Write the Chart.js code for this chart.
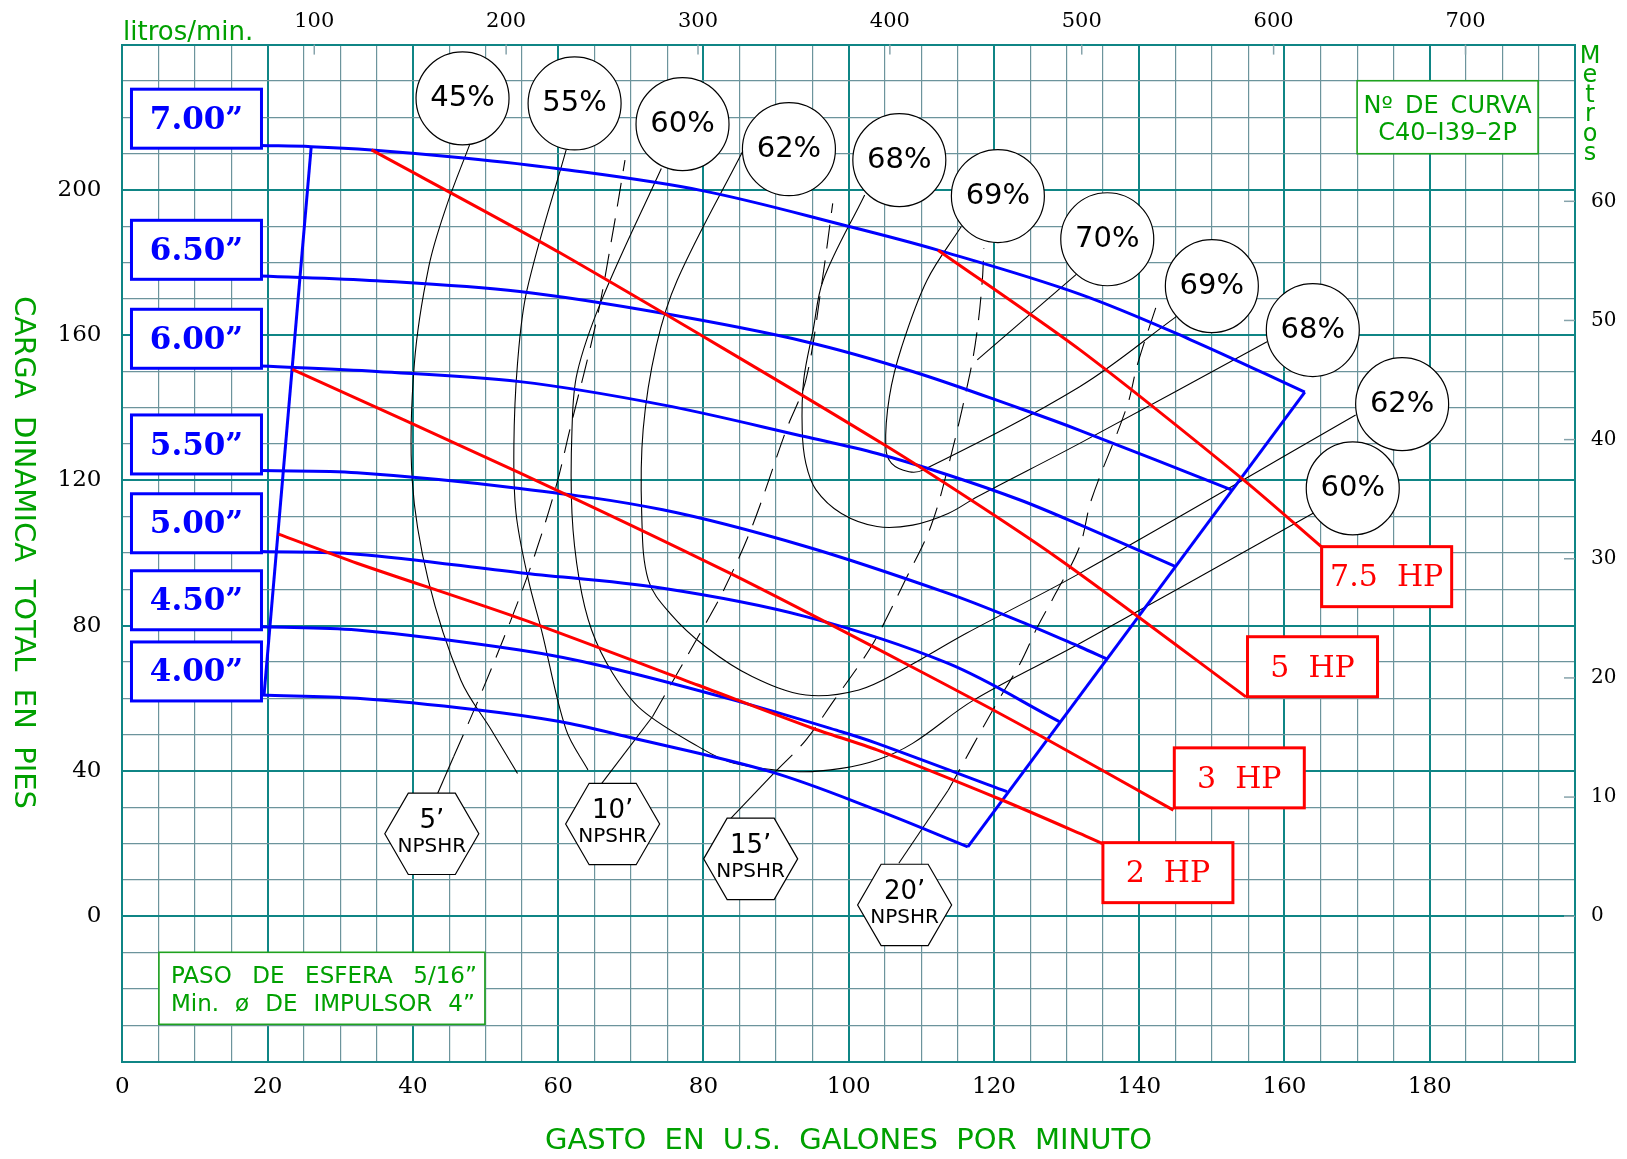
<!DOCTYPE html>
<html lang="es">
<head>
<meta charset="utf-8">
<title>Curva C40-I39-2P</title>
<script src="https://cdn.jsdelivr.net/npm/chart.js@4.4.1/dist/chart.umd.min.js"></script>
<style>
  html, body { margin: 0; padding: 0; background: #ffffff; }
  canvas { display: block; }
</style>
</head>
<body>
<canvas id="curva" width="1627" height="1159"></canvas>
<script>
// ---- Tick labels ----
const gpmTicks   = [0, 20, 40, 60, 80, 100, 120, 140, 160, 180];
const ftTicks    = [0, 40, 80, 120, 160, 200];
const lpmTicks   = [100, 200, 300, 400, 500, 600, 700];
const meterTicks = [0, 10, 20, 30, 40, 50, 60];

// ---- Impeller head curves: [gasto gpm, carga ft] ----
const imp700 = [[19.1,212.2],[26.0,211.9],[34.3,211.0],[47.0,208.8],[59.8,205.9],[79.8,199.8],[99.9,190.0],[112.3,183.4],[131.8,171.3],[147.0,158.8],[162.8,144.3]];
const imp650 = [[19.1,176.3],[35.0,175.0],[54.7,172.0],[74.4,166.0],[94.1,158.2],[108.8,150.0],[123.6,139.8],[131.8,133.8],[152.7,117.4]];
const imp600 = [[19.1,151.5],[35.0,150.0],[54.7,147.2],[74.4,140.8],[94.1,132.0],[103.9,127.4],[113.7,121.5],[123.6,114.6],[131.8,107.8],[145.1,96.2]];
const imp550 = [[19.1,122.7],[32.3,122.1],[54.7,117.8],[74.4,111.9],[94.1,101.8],[113.7,88.9],[123.6,81.2],[131.8,74.2],[135.6,70.8]];
const imp500 = [[19.1,100.4],[32.3,99.7],[54.7,94.6],[74.4,90.3],[94.1,82.5],[113.7,69.6],[129.0,53.6]];
const imp450 = [[19.1,79.7],[32.3,78.8],[54.7,73.3],[66.5,68.7],[84.2,59.5],[99.0,50.8],[103.9,47.6],[121.8,34.3]];
const imp400 = [[19.1,60.9],[32.3,60.0],[49.0,56.8],[60.2,53.6],[69.5,49.4],[89.2,39.8],[103.9,29.2],[116.4,19.1]];

// ---- Operating limits (min / max flow) ----
const minFlowLine = [[19.5,60.9],[26.0,212.0]];
const maxFlowLine = [[116.4,19.1],[162.8,144.3]];

// ---- Motor power lines ----
const hp75 = [[112.3,183.4],[131.8,156.0],[154.4,120.1],[165.1,101.7]];
const hp5  = [[34.3,211.0],[60.3,182.6],[104.9,129.8],[128.5,99.0],[154.7,60.4]];
const hp3  = [[23.4,150.6],[54.7,122.1],[83.7,94.4],[107.8,69.6],[124.6,51.7],[144.7,29.2]];
const hp2  = [[21.5,105.2],[32.3,97.2],[54.7,82.0],[79.3,63.6],[95.1,51.7],[103.9,45.8],[121.1,32.0],[131.8,22.8],[134.9,20.0]];

// ---- Efficiency contours ----
const eff45 = [[47.8,212.4],[44.6,195.4],[42.2,179.0],[40.2,152.2],[39.9,120.1],[42.1,92.6],[46.6,65.0],[50.8,51.3],[54.4,39.3]];
const eff55 = [[61.1,211.0],[55.7,172.4],[54.4,152.2],[53.9,129.3],[54.2,110.9],[55.9,92.6],[57.7,78.8],[61.1,51.3],[64.1,40.3]];
const eff60 = [[74.2,205.9],[66.0,169.7],[62.6,149.5],[61.9,133.9],[61.9,110.9],[62.9,92.6],[64.6,78.8],[67.5,66.9],[71.5,56.8],[79.3,46.7],[84.2,42.1],[93.1,39.8],[99.0,40.7],[103.9,43.0],[108.8,47.6],[117.2,59.5],[131.8,75.1],[164.0,111.0]];
const eff62 = [[85.5,211.0],[76.4,175.2],[73.5,157.0],[71.7,134.0],[71.5,110.9],[72.4,92.6],[75.4,83.4],[80.3,74.2],[86.7,66.0],[94.1,60.9],[101.4,62.3],[107.3,67.8],[116.2,77.9],[131.8,94.4],[169.8,138.0]];
const eff68 = [[102.2,198.6],[96.5,175.2],[95.1,161.4],[93.8,147.6],[93.6,133.9],[94.1,124.7],[95.5,117.4],[99.0,110.9],[103.9,107.3],[108.8,107.7],[113.7,110.9],[117.7,115.5],[131.8,130.2],[157.6,158.2]];
const eff69 = [[115.5,189.9],[110.8,175.2],[107.3,156.8],[105.6,143.0],[105.1,129.3],[105.9,124.7],[108.3,122.4],[110.3,122.9],[131.8,145.8],[145.1,165.1]];
const eff70 = [[131.5,177.0],[117.7,153.2]];

// ---- NPSH required (leader + dashed contour) ----
const npsh5Lead  = [[43.4,33.8],[45.6,43.9]];
const npsh5      = [[45.6,43.9],[49.0,59.5],[53.5,81.6],[56.7,99.0],[59.7,118.3],[61.6,133.9],[65.3,164.2],[67.5,188.0],[69.2,208.2]];
const npsh10Lead = [[66.0,36.6],[73.0,55.0]];
const npsh10     = [[73.0,55.0],[80.3,80.6],[82.8,89.8],[86.7,107.3],[91.4,133.9],[94.1,147.6],[96.3,174.3],[97.8,196.3]];
const npsh15Lead = [[83.8,27.0],[89.9,39.8]];
const npsh15     = [[89.9,39.8],[94.1,48.5],[98.0,59.5],[101.9,70.5],[103.9,77.0],[107.8,92.6],[111.3,107.3],[113.7,123.8],[116.7,149.5],[117.7,161.4],[118.4,175.2],[118.6,184.0]];
const npsh20Lead = [[106.9,14.6],[113.7,34.7]];
const npsh20     = [[113.7,34.7],[120.1,57.7],[123.6,69.6],[126.0,79.7],[128.5,88.9],[131.8,101.8],[133.4,114.6],[138.3,140.3],[139.8,152.2],[142.7,170.1]];

// ---- Tag texts and their anchors (gpm, ft) ----
const impellerLabels = ['7.00”','6.50”','6.00”','5.50”','5.00”','4.50”','4.00”'];
const impellerTagAt  = [[10.2,219.6],[10.2,183.5],[10.2,159.0],[10.2,129.9],[10.2,108.2],[10.2,87.0],[10.2,67.4]];
const hpLabels = ['7.5  HP','5  HP','3  HP','2  HP'];
const hpTagAt  = [[174.07,93.5],[163.86,68.7],[153.78,38.1],[143.95,12.0]];
const effLabels = ['45%','55%','60%','62%','68%','69%','70%','69%','68%','62%','60%'];
const effTagAt  = [[46.83,225.2],[62.26,223.8],[77.12,218.1],[91.77,211.2],[106.97,208.2],[120.54,198.3],[135.6,186.4],[150.0,173.5],[163.9,161.4],[176.2,141.0],[169.4,117.8]];
const npshLabels = ['5’','10’','15’','20’'];
const npshTagAt  = [[42.6,22.7],[67.5,25.4],[86.5,15.8],[107.7,3.1]];
const curveNote  = ['Nº DE CURVA','C40–I39–2P'];
const curveNoteAt = [182.46,220.0];
const sphereNote = ['PASO DE ESFERA 5/16”','Min. ø DE IMPULSOR 4”'];
const sphereNoteAt = [27.47,-19.85];

// ---- Style ----
const MAJOR = '#0f8585', MINOR = '#6c949c', TICKMARK = '#86a3ab';
const BLUE = '#0000ff', RED = '#ff0000', GREEN = '#00a000', BLACK = '#000000';
const SERIF = '"DejaVu Serif", serif';
const SANS = '"DejaVu Sans", sans-serif';
const FT_TO_M = 0.3048, GPM_TO_LPM = 3.78541;

const datasets = [];
function addLine(points, color, width, extra) {
  datasets.push(Object.assign({
    data: points.map(([x, y]) => ({ x, y })),
    showLine: true, borderColor: color, backgroundColor: color,
    borderWidth: width, pointRadius: 0, pointHoverRadius: 0,
    tension: 0.35, fill: false
  }, extra || {}));
}
[hp75, hp5, hp3, hp2].forEach(p => addLine(p, RED, 3, { tension: 0.25 }));
[imp700, imp650, imp600, imp550, imp500, imp450, imp400].forEach(p => addLine(p, BLUE, 3));
[minFlowLine, maxFlowLine].forEach(p => addLine(p, BLUE, 3, { tension: 0 }));
[eff45, eff55, eff60, eff62, eff68, eff69].forEach(p => addLine(p, BLACK, 1.1));
addLine(eff70, BLACK, 1.1, { tension: 0 });
[npsh5Lead, npsh10Lead, npsh15Lead, npsh20Lead].forEach(p => addLine(p, BLACK, 1.1, { tension: 0 }));
[npsh5, npsh10, npsh15, npsh20].forEach(p => addLine(p, BLACK, 1.1, { borderDash: [24, 12] }));

function stepTicks(min, max, step) {
  const t = [];
  for (let v = min; v <= max + 1e-9; v += step) t.push({ value: v });
  return t;
}

function wordsFit(ctx, text, x0, y, width) {
  const words = text.split(' ');
  const ws = words.map(w => ctx.measureText(w).width);
  const sum = ws.reduce((a, b) => a + b, 0);
  const gap = words.length > 1 ? (width - sum) / (words.length - 1) : 0;
  let x = x0;
  ctx.textAlign = 'left';
  words.forEach((w, i) => { ctx.fillText(w, x, y); x += ws[i] + gap; });
}

function box(ctx, cx, cy, w, h, stroke, lw) {
  ctx.fillStyle = '#ffffff';
  ctx.fillRect(cx - w / 2, cy - h / 2, w, h);
  ctx.strokeStyle = stroke; ctx.lineWidth = lw;
  ctx.strokeRect(cx - w / 2, cy - h / 2, w, h);
}

const overlay = {
  id: 'overlay',
  afterDatasetsDraw(chart) {
    const { ctx, chartArea: ca, scales } = chart;
    const X = v => scales.x.getPixelForValue(v);
    const Y = v => scales.y.getPixelForValue(v);
    ctx.save();

    // small inner tick marks for litros/min and metros
    ctx.strokeStyle = TICKMARK; ctx.lineWidth = 1.5;
    lpmTicks.forEach(v => {
      const px = scales.x2.getPixelForValue(v);
      ctx.beginPath(); ctx.moveTo(px, ca.top); ctx.lineTo(px, ca.top + 10); ctx.stroke();
    });
    meterTicks.forEach(v => {
      const py = scales.y2.getPixelForValue(v);
      ctx.beginPath(); ctx.moveTo(ca.right - 11, py); ctx.lineTo(ca.right, py); ctx.stroke();
    });

    // efficiency tags
    ctx.textBaseline = 'middle';
    effLabels.forEach((t, i) => {
      const cx = X(effTagAt[i][0]), cy = Y(effTagAt[i][1]);
      ctx.beginPath(); ctx.arc(cx, cy, 46.5, 0, Math.PI * 2);
      ctx.fillStyle = '#ffffff'; ctx.fill();
      ctx.strokeStyle = BLACK; ctx.lineWidth = 1.2; ctx.stroke();
      ctx.fillStyle = BLACK; ctx.font = `29px ${SANS}`; ctx.textAlign = 'center';
      ctx.fillText(t, cx, cy);
    });

    // NPSHR hexagons
    npshLabels.forEach((t, i) => {
      const cx = X(npshTagAt[i][0]), cy = Y(npshTagAt[i][1]);
      const r = 47;
      ctx.beginPath();
      for (let k = 0; k < 6; k++) {
        const a = k * Math.PI / 3;
        const px = cx + r * Math.cos(a), py = cy + r * Math.sin(a);
        k === 0 ? ctx.moveTo(px, py) : ctx.lineTo(px, py);
      }
      ctx.closePath();
      ctx.fillStyle = '#ffffff'; ctx.fill();
      ctx.strokeStyle = BLACK; ctx.lineWidth = 1.2; ctx.stroke();
      ctx.fillStyle = BLACK; ctx.textAlign = 'center';
      ctx.font = `26px ${SANS}`; ctx.fillText(t, cx, cy - 13);
      ctx.font = `20px ${SANS}`; ctx.fillText('NPSHR', cx, cy + 13);
    });

    // impeller diameter tags
    impellerLabels.forEach((t, i) => {
      const cx = X(impellerTagAt[i][0]), cy = Y(impellerTagAt[i][1]);
      box(ctx, cx, cy, 130, 59, BLUE, 3);
      ctx.fillStyle = BLUE; ctx.font = `bold 31px ${SERIF}`; ctx.textAlign = 'center';
      ctx.fillText(t, cx, cy + 2);
    });

    // motor power tags
    hpLabels.forEach((t, i) => {
      const cx = X(hpTagAt[i][0]), cy = Y(hpTagAt[i][1]);
      box(ctx, cx, cy, 130, 60, RED, 3);
      ctx.fillStyle = RED; ctx.font = `30px ${SERIF}`; ctx.textAlign = 'center';
      ctx.fillText(t, cx, cy + 2);
    });

    // curve number note
    {
      const cx = X(curveNoteAt[0]), cy = Y(curveNoteAt[1]);
      box(ctx, cx, cy, 181, 73, '#1fa21f', 1.6);
      ctx.fillStyle = GREEN; ctx.font = `24px ${SANS}`; ctx.textBaseline = 'alphabetic';
      wordsFit(ctx, curveNote[0], cx - 84, cy - 4, 168);
      ctx.textAlign = 'center';
      ctx.fillText(curveNote[1], cx, cy + 23);
    }
    // sphere / impeller note
    {
      const cx = X(sphereNoteAt[0]), cy = Y(sphereNoteAt[1]);
      box(ctx, cx, cy, 326, 72, '#1fa21f', 1.6);
      ctx.fillStyle = GREEN; ctx.font = `23px ${SANS}`; ctx.textBaseline = 'alphabetic';
      wordsFit(ctx, sphereNote[0], cx - 151, cy - 5, 306);
      wordsFit(ctx, sphereNote[1], cx - 151, cy + 23, 304);
    }

    // axis titles
    ctx.fillStyle = GREEN; ctx.textBaseline = 'alphabetic';
    ctx.font = `26px ${SANS}`; ctx.textAlign = 'left';
    ctx.fillText('litros/min.', 123, 40);

    ctx.font = `29px ${SANS}`;
    wordsFit(ctx, 'GASTO EN U.S. GALONES POR MINUTO', 545, 1149, 607);

    ctx.save();
    ctx.translate(14.5, 296);
    ctx.rotate(Math.PI / 2);
    wordsFit(ctx, 'CARGA DINAMICA TOTAL EN PIES', 0, 0, 513);
    ctx.restore();

    ctx.font = `24px ${SANS}`; ctx.textAlign = 'center';
    const metros = ['M', 'e', 't', 'r', 'o', 's'];
    metros.forEach((c, i) => ctx.fillText(c, 1590, 63 + i * 19.4));

    ctx.restore();
  }
};

const gridColor = (step) => c => (Math.abs(c.tick.value % step) < 1e-9 ? MAJOR : MINOR);
const gridWidth = (step) => c => (Math.abs(c.tick.value % step) < 1e-9 ? 2 : 1.2);

new Chart(document.getElementById('curva'), {
  type: 'scatter',
  data: { datasets },
  plugins: [overlay],
  options: {
    responsive: false,
    animation: false,
    events: [],
    layout: { padding: 0 },
    plugins: { legend: { display: false }, tooltip: { enabled: false } },
    scales: {
      x: {
        type: 'linear', position: 'bottom', min: 0, max: 200,
        afterBuildTicks: s => { s.ticks = stepTicks(0, 200, 5); },
        afterFit: s => { s.height = 97.5; },
        grid: { color: gridColor(20), lineWidth: gridWidth(20), drawTicks: false },
        border: { display: true, color: MAJOR, width: 2 },
        ticks: {
          autoSkip: false, maxRotation: 0, padding: 12, color: BLACK,
          font: { family: SERIF, size: 23 },
          callback: v => (gpmTicks.includes(v) ? String(v) : '')
        }
      },
      x2: {
        type: 'linear', position: 'top', min: 0, max: 200 * GPM_TO_LPM,
        afterBuildTicks: s => { s.ticks = lpmTicks.map(v => ({ value: v })); },
        afterFit: s => { s.height = 44.6; },
        grid: { drawOnChartArea: false, drawTicks: false },
        border: { display: true, color: MAJOR, width: 2 },
        ticks: {
          autoSkip: false, maxRotation: 0, padding: 10, color: BLACK,
          font: { family: SERIF, size: 21 },
          callback: v => String(v)
        }
      },
      y: {
        type: 'linear', position: 'left', min: -40, max: 240,
        afterBuildTicks: s => { s.ticks = stepTicks(-40, 240, 10); },
        afterFit: s => { s.width = 122.4; },
        grid: { color: gridColor(40), lineWidth: gridWidth(40), drawTicks: false },
        border: { display: true, color: MAJOR, width: 2 },
        ticks: {
          autoSkip: false, padding: 21, color: BLACK,
          font: { family: SERIF, size: 23 },
          callback: v => (ftTicks.includes(v) ? String(v) : '')
        }
      },
      y2: {
        type: 'linear', position: 'right', min: -40 * FT_TO_M, max: 240 * FT_TO_M,
        afterBuildTicks: s => { s.ticks = meterTicks.map(v => ({ value: v })); },
        afterFit: s => { s.width = 52; },
        grid: { drawOnChartArea: false, drawTicks: false },
        border: { display: true, color: MAJOR, width: 2 },
        ticks: {
          autoSkip: false, padding: 16, color: BLACK,
          font: { family: SERIF, size: 20 },
          callback: v => String(v)
        }
      }
    }
  }
});
</script>
</body>
</html>
